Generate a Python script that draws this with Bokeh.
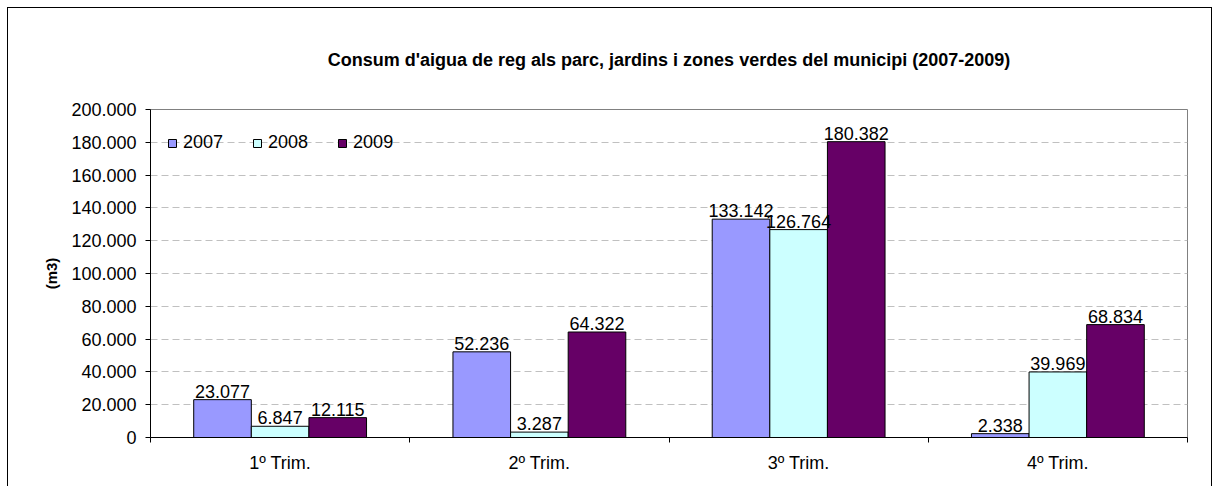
from bokeh.plotting import figure
from bokeh.models import FixedTicker, ColumnDataSource, LabelSet, Legend, LegendItem
from bokeh.core.properties import value
from bokeh.embed import file_html
from bokeh.resources import INLINE

title = "Consum d'aigua de reg als parc, jardins i zones verdes del municipi (2007-2009)"
categories = ["1º Trim.", "2º Trim.", "3º Trim.", "4º Trim."]
years = ["2007", "2008", "2009"]
v2007 = [23077, 52236, 133142, 2338]
v2008 = [6847, 3287, 126764, 39969]
v2009 = [12115, 64322, 180382, 68834]
colors = ["#9999FF", "#CCFFFF", "#660066"]
y_ticks = [0, 20000, 40000, 60000, 80000, 100000, 120000, 140000, 160000, 180000, 200000]
y_tick_labels = ["0", "20.000", "40.000", "60.000", "80.000", "100.000", "120.000",
                 "140.000", "160.000", "180.000", "200.000"]

FONT = "Liberation Sans"
FS = "18px"

p = figure(width=1205, height=479, x_range=(0, 4), y_range=(0, 200000),
           output_backend="svg", toolbar_location=None,
           min_border_left=142, min_border_right=26, min_border_top=101, min_border_bottom=50)
p.styles = {"margin-left": "7px", "margin-top": "7px",
            "border-left": "1px solid #000000", "border-top": "1px solid #000000",
            "border-right": "1px solid #000000"}
p.background_fill_color = "white"
p.border_fill_color = "white"
p.outline_line_color = "#808080"
p.outline_line_width = 1

p.title.text = title
p.title.align = "center"
p.title.text_font = FONT
p.title.text_font_size = FS
p.title.text_font_style = "bold"
p.title.text_color = "black"
p.title.standoff = 79

w = 1.0 / 4.5
series = [v2007, v2008, v2009]
offsets = [-w, 0.0, w]
renderers = []
for vals, col, off, yr in zip(series, colors, offsets, years):
    xs = [i + 0.5 + off for i in range(len(categories))]
    labels = [f"{v:,}".replace(",", ".") for v in vals]
    src = ColumnDataSource(dict(x=xs, top=vals, lab=labels))
    r = p.vbar(x="x", top="top", width=w, bottom=0, source=src,
               fill_color=col, line_color="black", line_width=1)
    renderers.append((yr, r))
    ls = LabelSet(x="x", y="top", text="lab", source=src, text_align="center",
                  text_baseline="bottom", y_offset=2, text_font=value(FONT),
                  text_font_size=value(FS), text_color="black")
    p.add_layout(ls)

legend = Legend(items=[LegendItem(label=yr, renderers=[r]) for yr, r in renderers],
                orientation="horizontal", location=(17, 284), padding=0, margin=0,
                spacing=29, glyph_width=10, glyph_height=10, label_standoff=6,
                label_text_font=FONT, label_text_font_size=FS, label_height=20,
                label_text_color="black",
                background_fill_alpha=0, border_line_alpha=0)
p.add_layout(legend)

# y axis
p.yaxis.ticker = FixedTicker(ticks=y_ticks)
p.yaxis.major_label_overrides = {t: l for t, l in zip(y_ticks, y_tick_labels)}
p.yaxis.major_tick_out = 5
p.yaxis.major_tick_in = 0
p.yaxis.minor_tick_out = 0
p.yaxis.minor_tick_in = 0
p.yaxis.major_label_standoff = 9
p.yaxis.major_label_text_font = FONT
p.yaxis.major_label_text_font_size = FS
p.yaxis.major_label_text_color = "black"
p.yaxis.axis_line_color = "black"
p.yaxis.major_tick_line_color = "black"
p.yaxis.axis_label = "(m3)"
p.yaxis.axis_label_text_font = FONT
p.yaxis.axis_label_text_font_size = "15px"
p.yaxis.axis_label_text_font_style = "bold"
p.yaxis.axis_label_text_color = "black"
p.yaxis.axis_label_standoff = 8

# x axis
xt = [i + 0.5 for i in range(len(categories))]
p.xaxis.ticker = FixedTicker(ticks=xt, minor_ticks=list(range(len(categories) + 1)))
p.xaxis.major_label_overrides = {t: c for t, c in zip(xt, categories)}
p.xaxis.major_tick_out = 0
p.xaxis.major_tick_in = 0
p.xaxis.minor_tick_out = 5
p.xaxis.minor_tick_in = 0
p.xaxis.minor_tick_line_color = "black"
p.xaxis.major_label_standoff = 10
p.xaxis.major_label_text_font = FONT
p.xaxis.major_label_text_font_size = FS
p.xaxis.major_label_text_color = "black"
p.xaxis.axis_line_color = "black"

p.xgrid.visible = False
p.ygrid.ticker = FixedTicker(ticks=y_ticks)
p.ygrid.grid_line_color = "#C0C0C0"
p.ygrid.grid_line_dash = "7 4"
p.ygrid.grid_line_width = 1

open("out.html", "w").write(file_html(p, INLINE))
